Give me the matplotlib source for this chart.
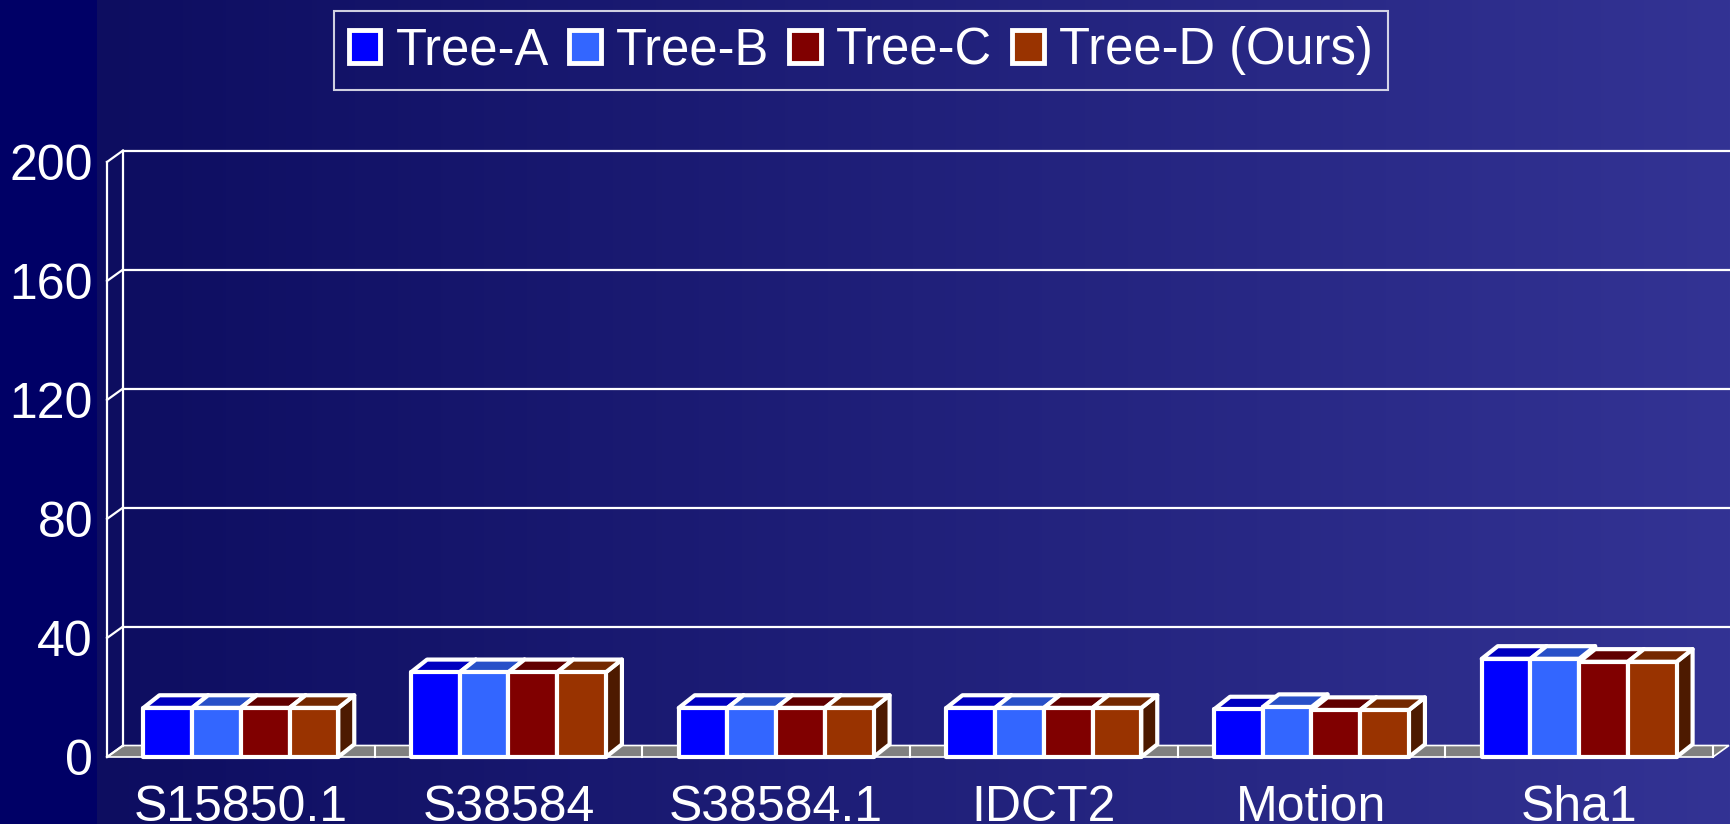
import numpy as np
import matplotlib.pyplot as plt
from matplotlib.patches import Patch, Polygon

plt.rcParams['font.family'] = ['Liberation Sans', 'DejaVu Sans']

# Data
categories = ['S15850.1', 'S38584', 'S38584.1', 'IDCT2', 'Motion', 'Sha1']
series_names = ['Tree-A', 'Tree-B', 'Tree-C', 'Tree-D (Ours)']
tree_a = [16.5, 28.5, 16.5, 16.5, 16.0, 33.0]
tree_b = [16.5, 28.5, 16.5, 16.5, 16.8, 33.0]
tree_c = [16.5, 28.5, 16.5, 16.5, 15.8, 32.0]
tree_d = [16.5, 28.5, 16.5, 16.5, 15.8, 32.0]
yticks = [0, 40, 80, 120, 160, 200]

front_colors = ['#0000ff', '#3366ff', '#800000', '#993300']
top_colors = ['#0000c0', '#2850c8', '#600000', '#742800']
side_colors = ['#000080', '#1a3380', '#400000', '#4d1a00']

FS = 36
WHITE = 'white'

fig = plt.figure(figsize=(17.3, 8.24), dpi=100)

# horizontal gradient background with a solid strip on the far left
bg = fig.add_axes([0, 0, 1, 1], zorder=0)
cols = np.arange(1730)
t = np.clip((cols - 97) / (1729 - 97), 0, 1)
start = np.array([13, 13, 96]) / 255
end = np.array([51, 51, 148]) / 255
grad = start[None, :] * (1 - t[:, None]) + end[None, :] * t[:, None]
grad[cols < 97] = np.array([0, 0, 102]) / 255
bg.imshow(grad[None, :, :], aspect='auto', extent=(0, 1, 0, 1), interpolation='nearest')
bg.axis('off')

ax = fig.add_axes([107 / 1730, 67 / 824, 1606 / 1730, 595 / 824], zorder=1)
ax.set_xlim(-0.5, 5.5)
ax.set_ylim(0, 200)
ax.patch.set_alpha(0)
for s in ax.spines.values():
    s.set_visible(False)

# depth of the pseudo-3D look, converted from pixels to data units
ddx = 16 / (ax.bbox.width / 6)
ddy = 11.5 / (ax.bbox.height / 200)

# floor
floor = Polygon([(-0.5, 0), (5.5, 0), (5.5 + ddx, ddy), (-0.5 + ddx, ddy)],
                closed=True, facecolor='#808080', edgecolor=WHITE, lw=1.2,
                clip_on=False, zorder=1)
ax.add_patch(floor)
for k in range(1, 7):
    ax.plot([k - 0.5, k - 0.5], [0, ddy], color=WHITE, lw=1.5, clip_on=False, zorder=1)

# wall: front axis, back edge, gridlines
glw = 1.6
ax.plot([-0.5, -0.5], [0, 200], color=WHITE, lw=glw, clip_on=False, zorder=1)
ax.plot([-0.5 + ddx] * 2, [ddy, 200 + ddy], color=WHITE, lw=glw, clip_on=False, zorder=1)
for v in yticks:
    ax.plot([-0.5, -0.5 + ddx], [v, v + ddy], color=WHITE, lw=glw, clip_on=False, zorder=1)
    if v > 0:
        ax.plot([-0.5 + ddx, 6.0], [v + ddy] * 2, color=WHITE, lw=glw, clip_on=False, zorder=1)

# bars
series = [tree_a, tree_b, tree_c, tree_d]
w = 0.182
x = np.arange(len(categories))
blw = 3.0
bdx, bdy = ddx, ddy * 1.1
for j, vals in enumerate(series):
    pos = x + (j - 1.5) * w
    base_z = 3 + 3 * j
    for p, h in zip(pos, vals):
        x0, x1 = p - w / 2, p + w / 2
        side = Polygon([(x1, 0), (x1 + bdx, bdy), (x1 + bdx, h + bdy), (x1, h)],
                       closed=True, facecolor=side_colors[j], edgecolor=WHITE,
                       lw=blw, joinstyle='round', clip_on=False, zorder=base_z)
        top = Polygon([(x0, h), (x1, h), (x1 + bdx, h + bdy), (x0 + bdx, h + bdy)],
                      closed=True, facecolor=top_colors[j], edgecolor=WHITE,
                      lw=blw, joinstyle='round', clip_on=False, zorder=base_z + 1)
        ax.add_patch(side)
        ax.add_patch(top)
    bars = ax.bar(pos, vals, width=w, color=front_colors[j], edgecolor=WHITE,
                  linewidth=blw, clip_on=False)
    for b in bars:
        b.set_zorder(base_z + 2)
        b.set_joinstyle('round')

# ticks
ax.set_yticks(yticks)
ax.set_yticklabels([str(v) for v in yticks])
ax.set_xticks(x)
ax.set_xticklabels(categories)
ax.tick_params(axis='y', length=0, pad=10, labelsize=FS, labelcolor=WHITE)
ax.tick_params(axis='x', length=0, pad=20, labelsize=FS, labelcolor=WHITE)

# legend
handles = [Patch(facecolor=c, edgecolor=WHITE, linewidth=3.5) for c in front_colors]
leg = fig.legend(handles, series_names, loc='upper center',
                 bbox_to_anchor=(861 / 1730, 1 - 11 / 824), ncol=4, fontsize=36.5,
                 labelcolor=WHITE, frameon=True, fancybox=False, edgecolor=WHITE,
                 facecolor='none', handlelength=0.62, handleheight=0.62,
                 handletextpad=0.3, columnspacing=0.4, borderpad=0.3,
                 borderaxespad=0)
leg.get_frame().set_linewidth(1.5)

fig.savefig('out.png', dpi=100)
